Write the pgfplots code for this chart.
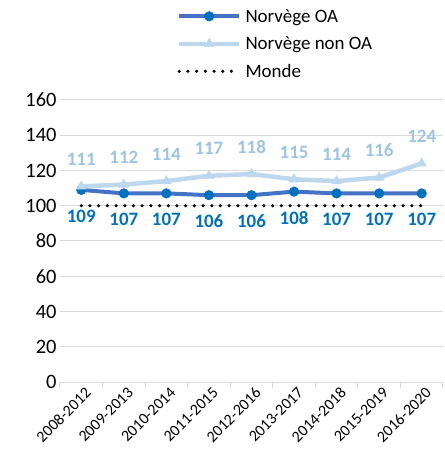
\documentclass[border=0pt]{standalone}
\usepackage{pgfplots}
\pgfplotsset{compat=1.18}
\usepackage{fontspec}
\setmainfont{Carlito}
\definecolor{oaline}{HTML}{4472C4}
\definecolor{oamark}{HTML}{0070C0}
\definecolor{nonoa}{HTML}{BDD7EE}
\definecolor{nonoalab}{HTML}{9DC3E6}
\definecolor{gridc}{HTML}{D9D9D9}
\begin{document}
\begin{tikzpicture}
\path[use as bounding box] (-60bp,-81bp) rectangle (385bp,382bp);
\begin{axis}[
  at={(0,0)}, anchor=south west,
  scale only axis, width=383bp, height=282bp,
  xmin=-0.5, xmax=8.5, ymin=0, ymax=160,
  ytick={0,20,...,160},
  xtick={0,...,8},
  xticklabels={2008-2012,2009-2013,2010-2014,2011-2015,2012-2016,2013-2017,2014-2018,2015-2019,2016-2020},
  x tick label style={rotate=45, anchor=north east, font=\fontsize{16}{16}\selectfont, inner sep=1bp, yshift=-4bp},
  y tick label style={font=\fontsize{20.5}{20.5}\selectfont},
  /pgf/number format/assume math mode=true,
  major tick length=0pt,
  ymajorgrids, grid style={gridc, line width=1bp},
  axis x line*=bottom, axis y line*=left,
  y axis line style={draw=none},
  x axis line style={gridc, line width=1bp, -},
  extra x ticks={-0.5,0.5,...,8.5},
  extra x tick labels={},
  extra x tick style={major tick length=6bp, tick align=outside, tick style={gridc, line width=1bp}},
  legend style={at={(0.305,1.33)}, anchor=north west, draw=none, fill=none,
    font=\fontsize{19}{19}\selectfont, row sep=9bp, inner sep=0pt,
    nodes={inner xsep=4bp}},
  legend cell align=left,
  legend image code/.code={\draw[#1, mark repeat=2, mark phase=2] plot coordinates {(0bp,0bp) (30bp,0bp) (60bp,0bp)};},
  clip=false,
]
\addplot[oaline, line width=4bp, mark=*, mark size=4.8bp, mark options={oamark, fill=oamark, line width=0.5bp},
  nodes near coords, nodes near coords style={font=\bfseries\fontsize{19}{19}\selectfont, text=oamark, anchor=center, yshift=-26bp}]
  coordinates {(0,109) (1,107) (2,107) (3,106) (4,106) (5,108) (6,107) (7,107) (8,107)};
\addlegendentry{Norvège OA}
\addplot[nonoa, line width=4.5bp, mark=triangle*, mark size=5.5bp, mark options={nonoa, fill=nonoa, line width=0.5bp},
  nodes near coords, nodes near coords style={font=\bfseries\fontsize{19}{19}\selectfont, text=nonoalab, anchor=center, yshift=27bp}]
  coordinates {(0,111) (1,112) (2,114) (3,117) (4,118) (5,115) (6,114) (7,116) (8,124)};
\addlegendentry{Norvège non OA}
\addplot[black, line width=3.5bp, line cap=round, dash pattern=on 0bp off 8.7bp]
  coordinates {(0,100) (1,100) (2,100) (3,100) (4,100) (5,100) (6,100) (7,100) (8,100)};
\addlegendentry{Monde}
\end{axis}
\end{tikzpicture}
\end{document}
